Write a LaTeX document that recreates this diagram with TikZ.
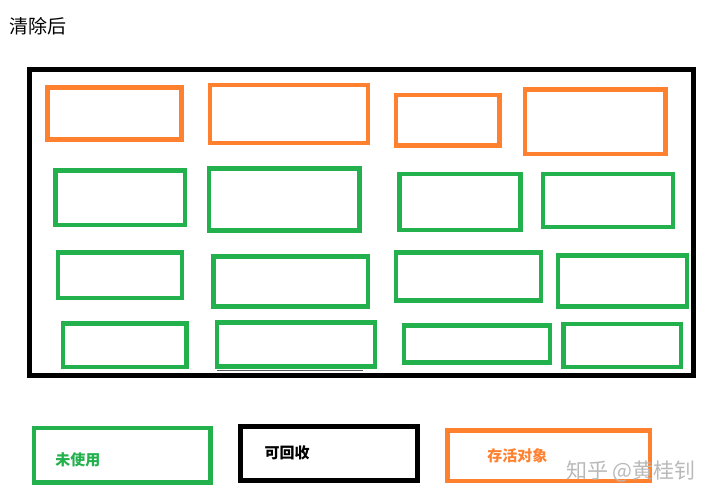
\documentclass[tikz,border=0pt]{standalone}
\usepackage{fontspec}
\newfontfamily\cjk{Noto Sans CJK SC}
\usetikzlibrary{positioning}
\definecolor{liveorange}{HTML}{FF8130}
\definecolor{unusedgreen}{HTML}{22B14C}

\begin{document}
\begin{tikzpicture}[
    x=1pt, y=-1pt,
    live/.style={draw=liveorange, line width=4.5pt},
    unused/.style={draw=unusedgreen, line width=4.5pt},
    heap/.style={draw=black, line width=5pt},
    keybox/.style={rectangle, inner sep=0pt},
    keytext/.style={font=\cjk\bfseries\fontsize{15}{15}\selectfont, inner sep=0pt}
]
    \useasboundingbox (0,0) rectangle (716,502);

    % Title
    \node[font=\cjk\fontsize{19}{19}\selectfont, inner sep=0pt] (title) at (38,26) {清除后};

    % Heap
    \draw[heap] (29.5,69.5) rectangle (693.5,375.5);

    % Live objects
    \foreach \xa/\ya/\xb/\yb in {47.5/87.5/181.5/139.5, 210/85/368/143,
        396/95/499.5/145.5, 525/89.5/665.5/154}
        \draw[live] (\xa,\ya) rectangle (\xb,\yb);

    % Unused blocks
    \foreach \xa/\ya/\xb/\yb in {55.5/170.5/185/225, 209/168.5/359.5/230.5,
        399.5/174/520.5/230, 543/174/673/227,
        58/252.5/182/298, 213.5/256.5/368/306.5,
        396/252.5/541/300.5, 558/255.5/687/306.5,
        63/323.5/186.5/367, 217/322.5/375/366.5,
        404/325.5/550/362.5, 563.5/324/681/367}
        \draw[unused] (\xa,\ya) rectangle (\xb,\yb);

    \draw[gray!70!black, line width=1.5pt] (217,370.5) -- (363,370.5);

    % Legend
    \node[keybox, unused, minimum width=176.5pt, minimum height=54.5pt] (unusedkey) at (122.25,455.25) {};
    \node[keybox, heap, minimum width=177pt, minimum height=54.5pt] (freekey) at (329,453.75) {};
    \node[keybox, live, minimum width=202.5pt, minimum height=50.5pt] (livekey) at (548.75,455.75) {};

    \node[keytext, text=unusedgreen] (unusedlabel) at (78,459.7) {未使用};
    \node[keytext, text=black] (freelabel) at (287,453.3) {可回收};
    \node[keytext, text=liveorange] (livelabel) at (517.3,456) {存活对象};

    % Watermark
    \node[font=\cjk\fontsize{21}{21}\selectfont, text=gray!55, inner sep=0pt] (mark) at (631,471.7) {知乎 @黄桂钊};
\end{tikzpicture}
\end{document}
